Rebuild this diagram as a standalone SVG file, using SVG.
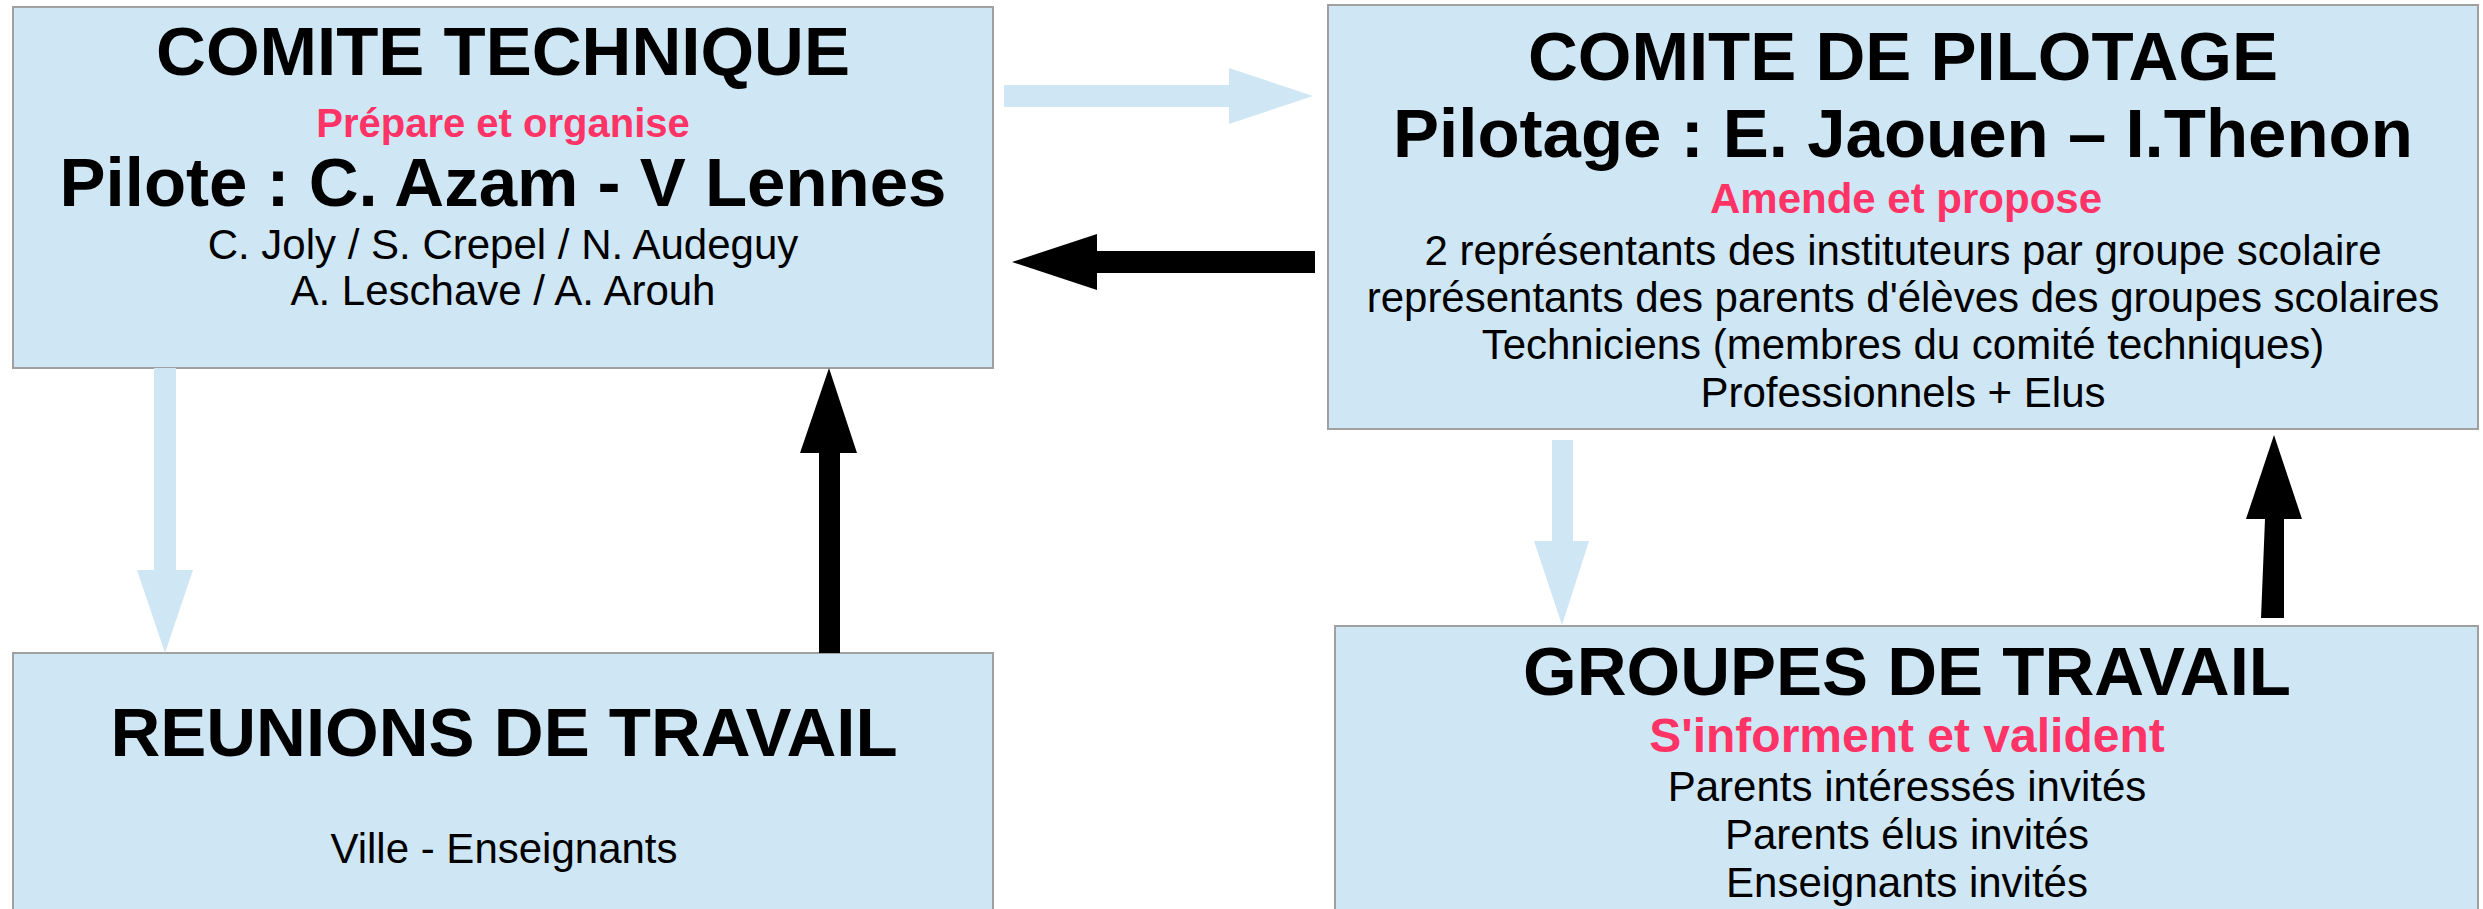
<svg xmlns="http://www.w3.org/2000/svg" width="2483" height="909" viewBox="0 0 2483 909">
<style>
.box{fill:#cfe6f4;stroke:#a0a0a0;stroke-width:2}
text{font-family:"Liberation Sans",Arial,sans-serif;text-anchor:middle;fill:#000}
.t{font-weight:bold;font-size:69px}
.p{font-weight:bold;fill:#ff3366}
.b{font-size:42px}
.light{fill:#cfe6f4}
.dark{fill:#000}
</style>
<rect width="2483" height="909" fill="#fff"/>
<g id="comite-technique">
<rect class="box" x="13" y="7" width="980" height="361"/>
<text class="t" x="503" y="75">COMITE TECHNIQUE</text>
<text class="p" x="503" y="137" style="font-size:40px">Prépare et organise</text>
<text class="t" x="503" y="206">Pilote : C. Azam - V Lennes</text>
<text class="b" x="503" y="259">C. Joly / S. Crepel / N. Audeguy</text>
<text class="b" x="503" y="305">A. Leschave / A. Arouh</text>
</g>
<g id="comite-pilotage">
<rect class="box" x="1328" y="5" width="1150" height="424"/>
<text class="t" x="1903" y="80">COMITE DE PILOTAGE</text>
<text class="t" x="1903" y="157">Pilotage : E. Jaouen – I.Thenon</text>
<text class="p" x="1906" y="213" style="font-size:42px">Amende et propose</text>
<text class="b" x="1903" y="265">2 représentants des instituteurs par groupe scolaire</text>
<text class="b" x="1903" y="312">représentants des parents d'élèves des groupes scolaires</text>
<text class="b" x="1903" y="359">Techniciens (membres du comité techniques)</text>
<text class="b" x="1903" y="407">Professionnels + Elus</text>
</g>
<g id="reunions-travail">
<rect class="box" x="13" y="653" width="980" height="270"/>
<text class="t" x="504" y="756">REUNIONS DE TRAVAIL</text>
<text class="b" x="504" y="863">Ville - Enseignants</text>
</g>
<g id="groupes-travail">
<rect class="box" x="1335" y="626" width="1143" height="297"/>
<text class="t" x="1907" y="695">GROUPES DE TRAVAIL</text>
<text class="p" x="1907" y="752" style="font-size:48px">S'informent et valident</text>
<text class="b" x="1907" y="801">Parents intéressés invités</text>
<text class="b" x="1907" y="849">Parents élus invités</text>
<text class="b" x="1907" y="897">Enseignants invités</text>
</g>
<g id="connectors">
<polygon class="light" points="1004,85 1229,85 1229,68 1313,96 1229,124 1229,107 1004,107"/>
<polygon class="dark" points="1315,251 1097,251 1097,234 1012,262 1097,290 1097,273 1315,273"/>
<polygon class="light" points="154,368 176,368 176,570 193,570 165,653 137,570 154,570"/>
<polygon class="dark" points="819,653 840,653 840,453 857,453 829,368 800,453 819,453"/>
<polygon class="light" points="1552,440 1573,440 1573,541 1589,541 1562,625 1534,541 1552,541"/>
<polygon class="dark" points="2261,618 2284,618 2284,519 2302,519 2274,435 2246,519 2265,519"/>
</g>
</svg>
